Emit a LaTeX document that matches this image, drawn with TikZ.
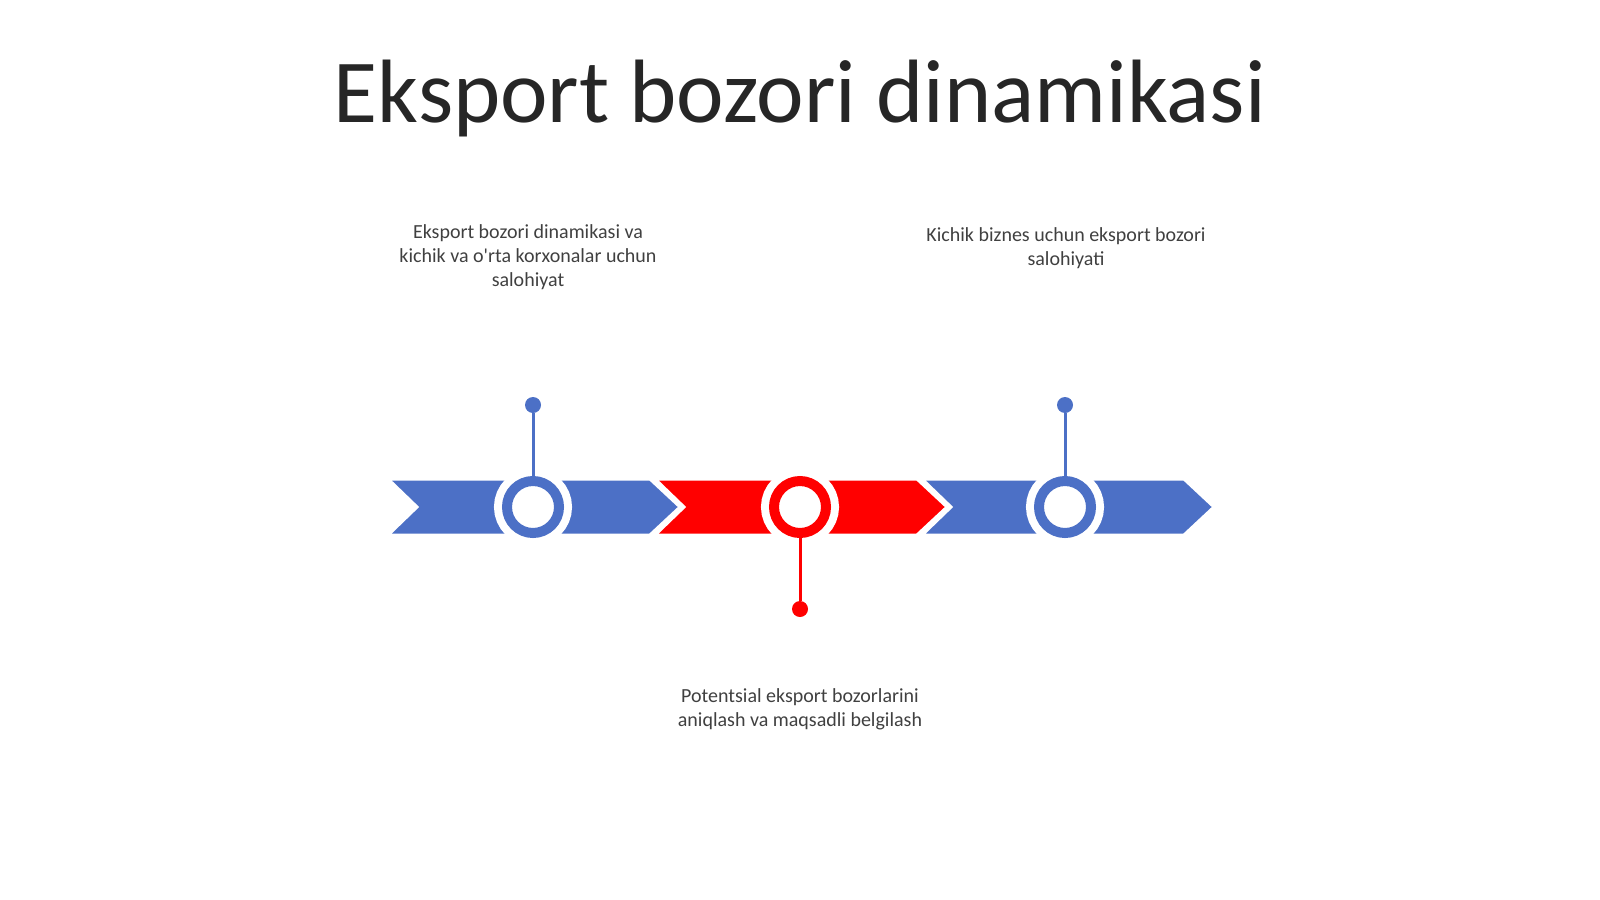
\documentclass[tikz,border=0pt]{standalone}
\usepackage{fontspec}
\setmainfont{Carlito}
\usetikzlibrary{positioning}
\definecolor{timelineBlue}{RGB}{76,112,198}
\definecolor{timelineRed}{RGB}{255,0,0}
\definecolor{labelGray}{RGB}{64,64,64}
\definecolor{titleGray}{RGB}{38,38,38}
\tikzstyle{slide} = [x = 1pt, y = -1pt]
\tikzstyle{chevronStyle} = [draw=white, line width=3pt, line join=miter]
\tikzstyle{ringStyle} = [circle, draw, line width=10pt, fill=white, minimum size=52pt, inner sep=0pt, preaction={draw=white, line width=26pt}]
\tikzstyle{dotStyle} = [circle, minimum size=16pt, inner sep=0pt]
\tikzstyle{stemLine} = [line width=3pt]
\tikzstyle{labelText} = [font=\fontsize{20}{24}\selectfont, color=labelGray, align=center, anchor=base]
\tikzstyle{titleText} = [font=\fontsize{90}{100}\selectfont, color=titleGray, anchor=base]
\newcommand{\chevronTop}{479}
\newcommand{\chevron}[2]{\filldraw [chevronStyle, fill=#2] (#1, \chevronTop) -- ++(262, 0) -- ++(30, 28) -- ++(-30, 28) -- ++(-262, 0) -- ++(29, -28) -- cycle;}

\begin{document}
\begin{tikzpicture}[slide]
      \useasboundingbox (0, 0) rectangle (1600, 899);
      \node [titleText] (title) at (800, 122) {Eksport bozori dinamikasi};

      \chevron{388}{timelineBlue}\chevron{655}{timelineRed}\chevron{922}{timelineBlue}

      \node [ringStyle, draw=timelineBlue] (ringLeft) at (533, 507) {};
      \node [ringStyle, draw=timelineRed] (ringMiddle) at (800, 507) {};
      \node [ringStyle, draw=timelineBlue] (ringRight) at (1065, 507) {};

      \node [dotStyle, fill=timelineBlue] (dotLeft) at (533, 405) {};
      \node [dotStyle, fill=timelineRed] (dotMiddle) at (800, 609) {};
      \node [dotStyle, fill=timelineBlue] (dotRight) at (1065, 405) {};

      \draw [stemLine, timelineBlue] (dotLeft) -- (ringLeft);
      \draw [stemLine, timelineRed] (ringMiddle) -- (dotMiddle);
      \draw [stemLine, timelineBlue] (dotRight) -- (ringRight);

      % base anchor sits on the last line
      \node [labelText] (labelLeft) at (528, 286) {Eksport bozori dinamikasi va\\kichik va o\textquotesingle rta korxonalar uchun\\salohiyat};
      \node [labelText] (labelRight) at (1066, 265) {Kichik biznes uchun eksport bozori\\salohiyati};
      \node [labelText] (labelMiddle) at (800, 726) {Potentsial eksport bozorlarini\\aniqlash va maqsadli belgilash};
    \end{tikzpicture}
\end{document}
